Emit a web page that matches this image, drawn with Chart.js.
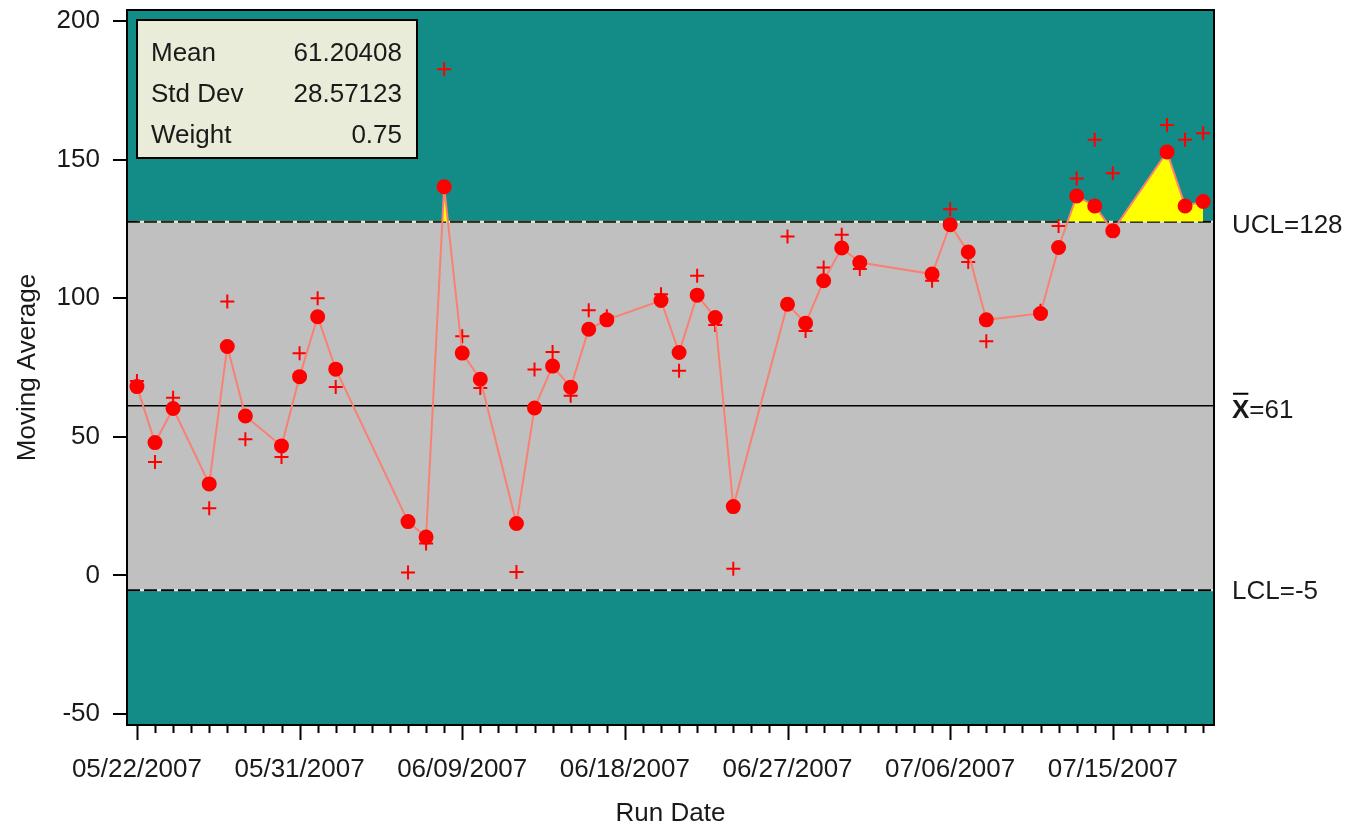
<!DOCTYPE html>
<html>
<head>
<meta charset="utf-8">
<title>EWMA chart</title>
<script src="https://cdn.jsdelivr.net/npm/chart.js@4.4.1/dist/chart.umd.min.js"></script>
<style>
  html, body { margin: 0; padding: 0; background: #fff; }
</style>
</head>
<body>
<canvas id="ewmaChart" width="1350" height="829"></canvas>
<script>
// run day offsets from 05/22/2007
const runDays = [0, 1, 2, 4, 5, 6, 8, 9, 10, 11, 15, 16, 17, 18, 19, 21, 22, 23, 24, 25, 26,
    29, 30, 31, 32, 33, 36, 37, 38, 39, 40, 44, 45, 46, 47, 50, 51, 52, 53, 54, 57, 58, 59];
const movingAvg = [68.1, 47.9, 60.2, 33.0, 82.6, 57.5, 46.7, 71.7, 93.3, 74.4, 19.4, 13.8, 140.2, 80.2, 70.8,
    18.7, 60.4, 75.5, 67.9, 88.8, 92.2, 99.2, 80.4, 101.1, 93.0, 24.8, 97.8, 91.0, 106.3, 118.1, 112.9,
    108.7, 126.5, 116.7, 92.2, 94.5, 118.3, 136.9, 133.3, 124.3, 152.8, 133.3, 134.9];
const subgroupVals = [70.1, 40.9, 64.1, 24.2, 98.8, 49.1, 42.7, 80.1, 100.0, 68.0, 1.0, 11.5, 182.6, 86.3, 67.6,
    1.2, 74.3, 80.6, 64.8, 95.7, 93.5, 101.4, 73.8, 108.1, 90.3, 2.4, 122.3, 88.2, 111.1, 122.9, 110.5,
    106.3, 132.1, 113.1, 84.5, 95.5, 126.1, 143.2, 157.2, 145.1, 162.5, 157.2, 159.5];

const tickDays = [0, 9, 18, 27, 36, 45, 54];
const tickLabels = ['05/22/2007', '05/31/2007', '06/09/2007', '06/18/2007', '06/27/2007', '07/06/2007', '07/15/2007'];
const yTicks = [-50, 0, 50, 100, 150, 200];

const ucl = 127.6, centerLine = 61.2, lcl = -5.4;
const limitLabels = ['UCL=128', '=61', 'LCL=-5'];
const statLabels = ['Mean', 'Std Dev', 'Weight'];
const statValues = ['61.20408', '28.57123', '0.75'];

const FONT = "'Liberation Sans', Arial, sans-serif";
const TEXT = '#1a1a1a';

const controlZones = {
    id: 'controlZones',
    beforeDatasetsDraw(chart) {
        const { ctx, chartArea: a, scales: { y } } = chart;
        const yU = y.getPixelForValue(ucl), yL = y.getPixelForValue(lcl), yM = y.getPixelForValue(centerLine);
        ctx.save();
        ctx.fillStyle = '#138b87';
        ctx.fillRect(a.left, a.top, a.width, a.height);
        ctx.fillStyle = '#c0c0c0';
        ctx.fillRect(a.left, yU, a.width, yL - yU);

        // dashed control limits
        [yU, yL].forEach(py => {
            ctx.lineWidth = 2;
            ctx.setLineDash([]);
            ctx.strokeStyle = '#e8e8e8';
            ctx.beginPath(); ctx.moveTo(a.left, py); ctx.lineTo(a.right, py); ctx.stroke();
            ctx.setLineDash([13, 4]);
            ctx.strokeStyle = '#000';
            ctx.beginPath(); ctx.moveTo(a.left, py); ctx.lineTo(a.right, py); ctx.stroke();
        });
        ctx.setLineDash([]);
        ctx.lineWidth = 1.5;
        ctx.strokeStyle = '#000';
        ctx.beginPath(); ctx.moveTo(a.left, yM); ctx.lineTo(a.right, yM); ctx.stroke();
        ctx.restore();
    },
    afterDraw(chart) {
        const { ctx, chartArea: a, scales: { x, y } } = chart;
        ctx.save();
        // frame
        ctx.strokeStyle = '#000';
        ctx.lineWidth = 2;
        ctx.strokeRect(a.left, a.top, a.width, a.height);

        // day ticks, longer at labelled days
        for (let d = 0; d <= 59; d++) {
            const px = Math.round(x.getPixelForValue(d)) + 0.5;
            const len = tickDays.includes(d) ? 15 : 8;
            ctx.beginPath(); ctx.moveTo(px, a.bottom); ctx.lineTo(px, a.bottom + len); ctx.stroke();
        }

        // limit labels on the right
        ctx.fillStyle = TEXT;
        ctx.font = '26px ' + FONT;
        ctx.textBaseline = 'middle';
        ctx.textAlign = 'left';
        const lx = a.right + 18;
        ctx.fillText(limitLabels[0], lx, y.getPixelForValue(ucl) + 4);
        ctx.fillText(limitLabels[2], lx, y.getPixelForValue(lcl) + 2);
        const ym = y.getPixelForValue(centerLine) + 5;
        ctx.font = 'bold 26px ' + FONT;
        const xw = ctx.measureText('X').width;
        ctx.fillText('X', lx, ym);
        ctx.lineWidth = 2;
        ctx.beginPath(); ctx.moveTo(lx + 1, ym - 17); ctx.lineTo(lx + xw - 1, ym - 17); ctx.stroke();
        ctx.font = '26px ' + FONT;
        ctx.fillText(limitLabels[1], lx + xw, ym);

        // statistics box
        ctx.fillStyle = '#e8ecd8';
        ctx.fillRect(137, 20, 280, 138);
        ctx.strokeStyle = '#000';
        ctx.lineWidth = 2;
        ctx.strokeRect(137, 20, 280, 138);
        ctx.fillStyle = TEXT;
        statLabels.forEach((s, i) => {
            const ty = 54 + i * 41;
            ctx.textAlign = 'left';
            ctx.fillText(s, 151, ty);
            ctx.textAlign = 'right';
            ctx.fillText(statValues[i], 402, ty);
        });
        ctx.restore();
    }
};

new Chart(document.getElementById('ewmaChart'), {
    type: 'line',
    data: {
        datasets: [
            {
                label: 'EWMA',
                data: runDays.map((d, i) => ({ x: d, y: movingAvg[i] })),
                borderColor: '#fa8072',
                borderWidth: 2,
                tension: 0,
                pointRadius: 6.5,
                pointBackgroundColor: '#ff0000',
                pointBorderColor: '#ff0000',
                fill: { target: { value: ucl }, above: '#ffff00', below: 'rgba(0,0,0,0)' },
                order: 1
            },
            {
                label: 'Subgroup',
                data: runDays.map((d, i) => ({ x: d, y: subgroupVals[i] })),
                showLine: false,
                pointStyle: 'cross',
                pointRadius: 7,
                pointBorderColor: '#ff0000',
                pointBorderWidth: 2,
                order: 2
            }
        ]
    },
    options: {
        responsive: false,
        animation: false,
        layout: { padding: { top: 10, right: 136, left: 0, bottom: 0 } },
        plugins: {
            legend: { display: false },
            tooltip: { enabled: false }
        },
        scales: {
            x: {
                type: 'linear',
                min: -0.55,
                max: 59.6,
                afterBuildTicks: s => { s.ticks = tickDays.map(v => ({ value: v })); },
                afterFit: s => { s.height = 104; s.paddingLeft = 0; s.paddingRight = 0; },
                grid: { display: false, drawTicks: false },
                border: { display: false },
                ticks: {
                    padding: 29,
                    autoSkip: false,
                    maxRotation: 0,
                    color: TEXT,
                    font: { family: FONT, size: 26 },
                    callback: v => tickLabels[tickDays.indexOf(v)]
                },
                title: {
                    display: true,
                    text: 'Run Date',
                    color: TEXT,
                    font: { family: FONT, size: 26 },
                    padding: { top: 0, bottom: 0 }
                }
            },
            y: {
                min: -54,
                max: 204,
                afterBuildTicks: s => { s.ticks = yTicks.map(v => ({ value: v })); },
                afterFit: s => { s.width = 127; s.paddingTop = 0; s.paddingBottom = 0; },
                grid: { drawOnChartArea: false, drawTicks: true, tickLength: 14, color: '#000', lineWidth: 2 },
                border: { display: false },
                ticks: {
                    padding: 13,
                    color: TEXT,
                    font: { family: FONT, size: 26 }
                },
                title: {
                    display: true,
                    text: 'Moving Average',
                    color: TEXT,
                    font: { family: FONT, size: 26 },
                    padding: { top: 12, bottom: 0 }
                }
            }
        }
    },
    plugins: [controlZones]
});
</script>
</body>
</html>
